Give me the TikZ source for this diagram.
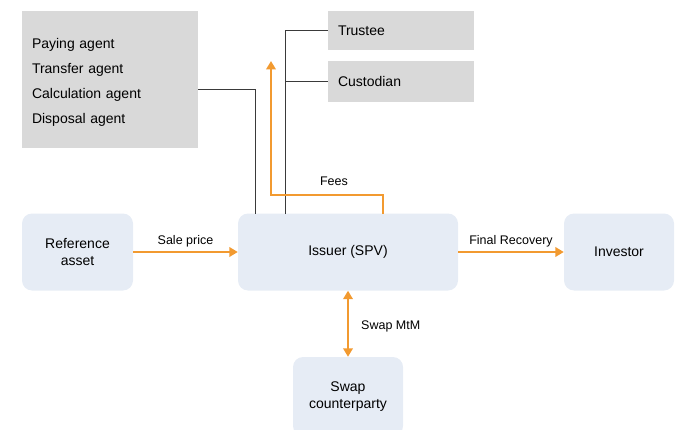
\documentclass[tikz,border=0pt]{standalone}
\usepackage{fontspec}
\setmainfont{Liberation Sans}
\usetikzlibrary{arrows.meta}
\definecolor{boxblue}{HTML}{E6ECF5}
\definecolor{boxgray}{HTML}{D9D9D9}
\definecolor{flow}{HTML}{F29A30}
\definecolor{wire}{HTML}{3A3A3A}
\tikzset{
  party/.style={fill=boxblue, rounded corners=10pt, align=center, inner sep=0pt,
    font=\fontsize{14}{17}\selectfont},
  role/.style={fill=boxgray, inner xsep=10pt, inner ysep=0pt, align=left,
    font=\fontsize{14}{24.7}\selectfont},
  wireline/.style={draw=wire, line width=0.9pt},
  flowline/.style={draw=flow, line width=2.6pt, -{Triangle[length=8.5pt,width=9.5pt]}},
  flowboth/.style={draw=flow, line width=2.6pt, {Triangle[length=8.5pt,width=9.5pt]}-{Triangle[length=8.5pt,width=9.5pt]}},
  tag/.style={font=\fontsize{12.5}{15}\selectfont, inner sep=0pt}
}
\begin{document}
\begin{tikzpicture}[x=1pt,y=-1pt]
\useasboundingbox (0,0) rectangle (676,430);
\clip (0,0) rectangle (676,430);

% service providers
\node[role, text width=156pt, minimum height=137pt] (agents) at (110,79.5)
  {\rule{0pt}{16pt}Paying agent\\Transfer agent\\Calculation agent\\Disposal agent};
\node[role, text width=126pt, minimum height=39pt] (trustee) at (401,30.5) {Trustee};
\node[role, text width=126pt, minimum height=41pt] (custodian) at (401,81.5) {Custodian};

% transaction parties
\node[party, minimum width=111pt, minimum height=77pt] (ref) at (77.5,252) {Reference\\asset};
\node[party, minimum width=220pt, minimum height=77pt] (issuer) at (348,252) {Issuer (SPV)};
\node[party, minimum width=110pt, minimum height=77pt] (investor) at (619,252) {Investor};
\node[party, minimum width=110pt, minimum height=79pt] (swap) at (348,396.5) {Swap\\counterparty};

% administrative links
\coordinate (agentsdrop) at (255,214);
\coordinate (bus) at (285,214);
\draw[wireline] ([yshift=-9.5pt]agents.east) -| (agentsdrop);
\draw[wireline] (bus) |- (trustee.west);
\draw[wireline] (custodian.west) -- (custodian.west -| bus);

% fee flow
\coordinate (feesrise) at (383,214);
\coordinate (feestip) at (271,61);
\draw[flowline] (feesrise) -- ++(0,-19) -| (feestip);
\node[tag] (feeslbl) at (334,181) {Fees};

% cash flows
\draw[flowline] (ref) -- (issuer) node[tag, midway, above=4pt] (salelbl) {Sale price};
\draw[flowline] (issuer) -- (investor) node[tag, midway, above=4pt] (finallbl) {Final Recovery};
\draw[flowboth] (issuer.south) -- (swap.north);
\node[tag, anchor=west] (mtmlbl) at (361,326) {Swap MtM};
\end{tikzpicture}
\end{document}
